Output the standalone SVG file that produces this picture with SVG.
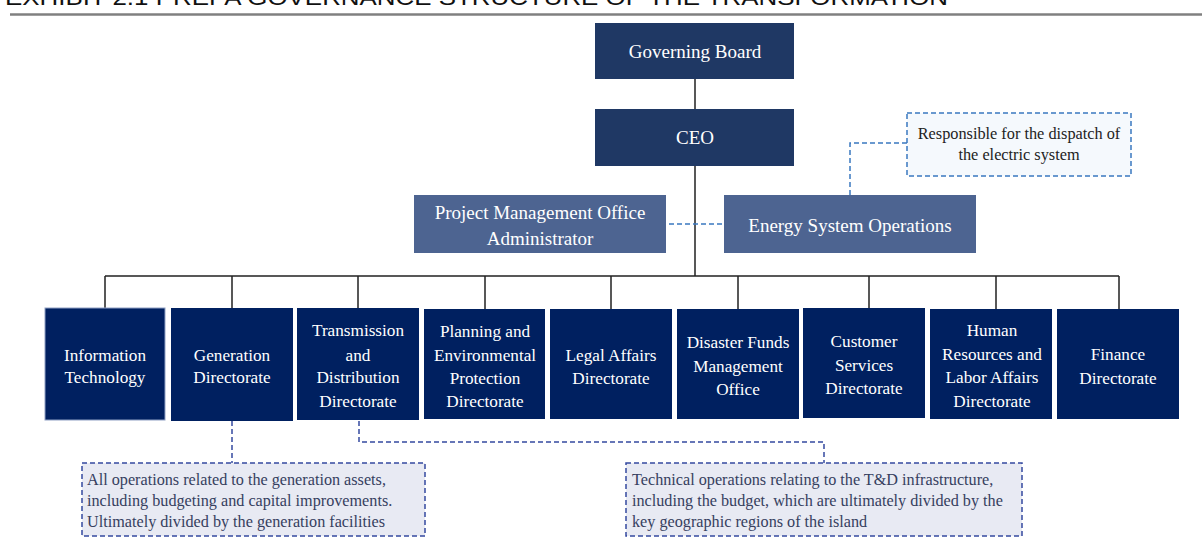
<svg xmlns="http://www.w3.org/2000/svg" width="1202" height="545" viewBox="0 0 1202 545">
<style>
text{font-family:"Liberation Serif","Times New Roman",serif}
.title{font-family:"Liberation Sans",Arial,sans-serif;font-size:22px;fill:#111}
.top{fill:#1F3864}
.mid{fill:#4D6491}
.dir{fill:#002060}
.wt{fill:#fff;font-size:17.2px;text-anchor:middle}
.wl{fill:#fff;font-size:19px;text-anchor:middle}
.solid{stroke:#222;stroke-width:1.5;fill:none}
.dash1{stroke:#3A78C0;stroke-width:1.5;fill:none;stroke-dasharray:5 3}
.dash2{stroke:#3449A0;stroke-width:1.5;fill:none;stroke-dasharray:5 3}
.note1{fill:#F5F9FD;stroke:#3A78C0;stroke-width:1.5;stroke-dasharray:5 3}
.note2{fill:#E8EAF3;stroke:#3449A0;stroke-width:1.5;stroke-dasharray:5 3}
.nt1{fill:#222;font-size:16.3px;text-anchor:middle}
.nt2{fill:#36405F;font-size:16.2px}
</style>
<rect width="1202" height="545" fill="#fff"/>
<text class="title" x="5" y="5" textLength="943" lengthAdjust="spacingAndGlyphs">EXHIBIT 2.1 PREPA GOVERNANCE STRUCTURE OF THE TRANSFORMATION</text>
<line x1="10" y1="14.5" x2="1202" y2="14.5" stroke="#808080" stroke-width="2.5"/>
<g id="connectors">
<path class="solid" d="M695 79V109M695 166V276M105 276H1119M105 276V308M232 276V308M358 276V308M485 276V309M611 276V309M738 276V309M869 276V308M996 276V309M1119 276V309"/>
<path class="dash1" d="M669 224H724"/>
<path class="dash1" d="M907 143H850V195"/>
<path class="dash2" d="M232 421V463"/>
<path class="dash2" d="M359 421V442H824V463"/>
</g>
<g id="governing-board"><rect class="top" x="595" y="23" width="199" height="56"/><text class="wl" x="695" y="58">Governing Board</text></g>
<g id="ceo"><rect class="top" x="595" y="109" width="199" height="57"/><text class="wl" x="695" y="144">CEO</text></g>
<g id="pmo"><rect class="mid" x="414" y="195" width="252" height="58"/><text class="wl" x="540" y="219">Project Management Office</text><text class="wl" x="540" y="245">Administrator</text></g>
<g id="eso"><rect class="mid" x="724" y="195" width="252" height="58"/><text class="wl" x="850" y="232">Energy System Operations</text></g>
<g id="eso-note"><rect class="note1" x="907" y="113" width="224" height="63"/><text class="nt1" x="1019" y="139">Responsible for the dispatch of</text><text class="nt1" x="1019" y="160">the electric system</text></g>
<g id="it"><rect class="dir" x="45" y="308" width="120" height="112" stroke="#8FA0C4" stroke-width="1"/><text class="wt" x="105" y="361">Information</text><text class="wt" x="105" y="383">Technology</text></g>
<g id="gen"><rect class="dir" x="171" y="308" width="122" height="113"/><text class="wt" x="232" y="361">Generation</text><text class="wt" x="232" y="383">Directorate</text></g>
<g id="td"><rect class="dir" x="297" y="308" width="122" height="112"/><text class="wt" x="358" y="336">Transmission</text><text class="wt" x="358" y="361">and</text><text class="wt" x="358" y="383">Distribution</text><text class="wt" x="358" y="407">Directorate</text></g>
<g id="planning"><rect class="dir" x="424" y="309" width="121" height="110"/><text class="wt" x="485" y="337">Planning and</text><text class="wt" x="485" y="361">Environmental</text><text class="wt" x="485" y="384">Protection</text><text class="wt" x="485" y="407">Directorate</text></g>
<g id="legal"><rect class="dir" x="550" y="309" width="122" height="110"/><text class="wt" x="611" y="361">Legal Affairs</text><text class="wt" x="611" y="384">Directorate</text></g>
<g id="disaster"><rect class="dir" x="677" y="309" width="122" height="110"/><text class="wt" x="738" y="348">Disaster Funds</text><text class="wt" x="738" y="372">Management</text><text class="wt" x="738" y="395">Office</text></g>
<g id="customer"><rect class="dir" x="803" y="308" width="122" height="110"/><text class="wt" x="864" y="347">Customer</text><text class="wt" x="864" y="371">Services</text><text class="wt" x="864" y="394">Directorate</text></g>
<g id="hr"><rect class="dir" x="930" y="309" width="122" height="110"/><text class="wt" x="992" y="336">Human</text><text class="wt" x="992" y="360">Resources and</text><text class="wt" x="992" y="383">Labor Affairs</text><text class="wt" x="992" y="407">Directorate</text></g>
<g id="finance"><rect class="dir" x="1057" y="309" width="122" height="110"/><text class="wt" x="1118" y="360">Finance</text><text class="wt" x="1118" y="384">Directorate</text></g>
<g id="gen-note"><rect class="note2" x="82" y="463" width="343" height="73"/><text class="nt2" x="87" y="485">All operations related to the generation assets,</text><text class="nt2" x="87" y="506">including budgeting and capital improvements.</text><text class="nt2" x="87" y="527">Ultimately divided by the generation facilities</text></g>
<g id="td-note"><rect class="note2" x="626" y="463" width="396" height="73"/><text class="nt2" x="632" y="485">Technical operations relating to the T&amp;D infrastructure,</text><text class="nt2" x="632" y="506">including the budget, which are ultimately divided by the</text><text class="nt2" x="632" y="527">key geographic regions of the island</text></g>
</svg>
